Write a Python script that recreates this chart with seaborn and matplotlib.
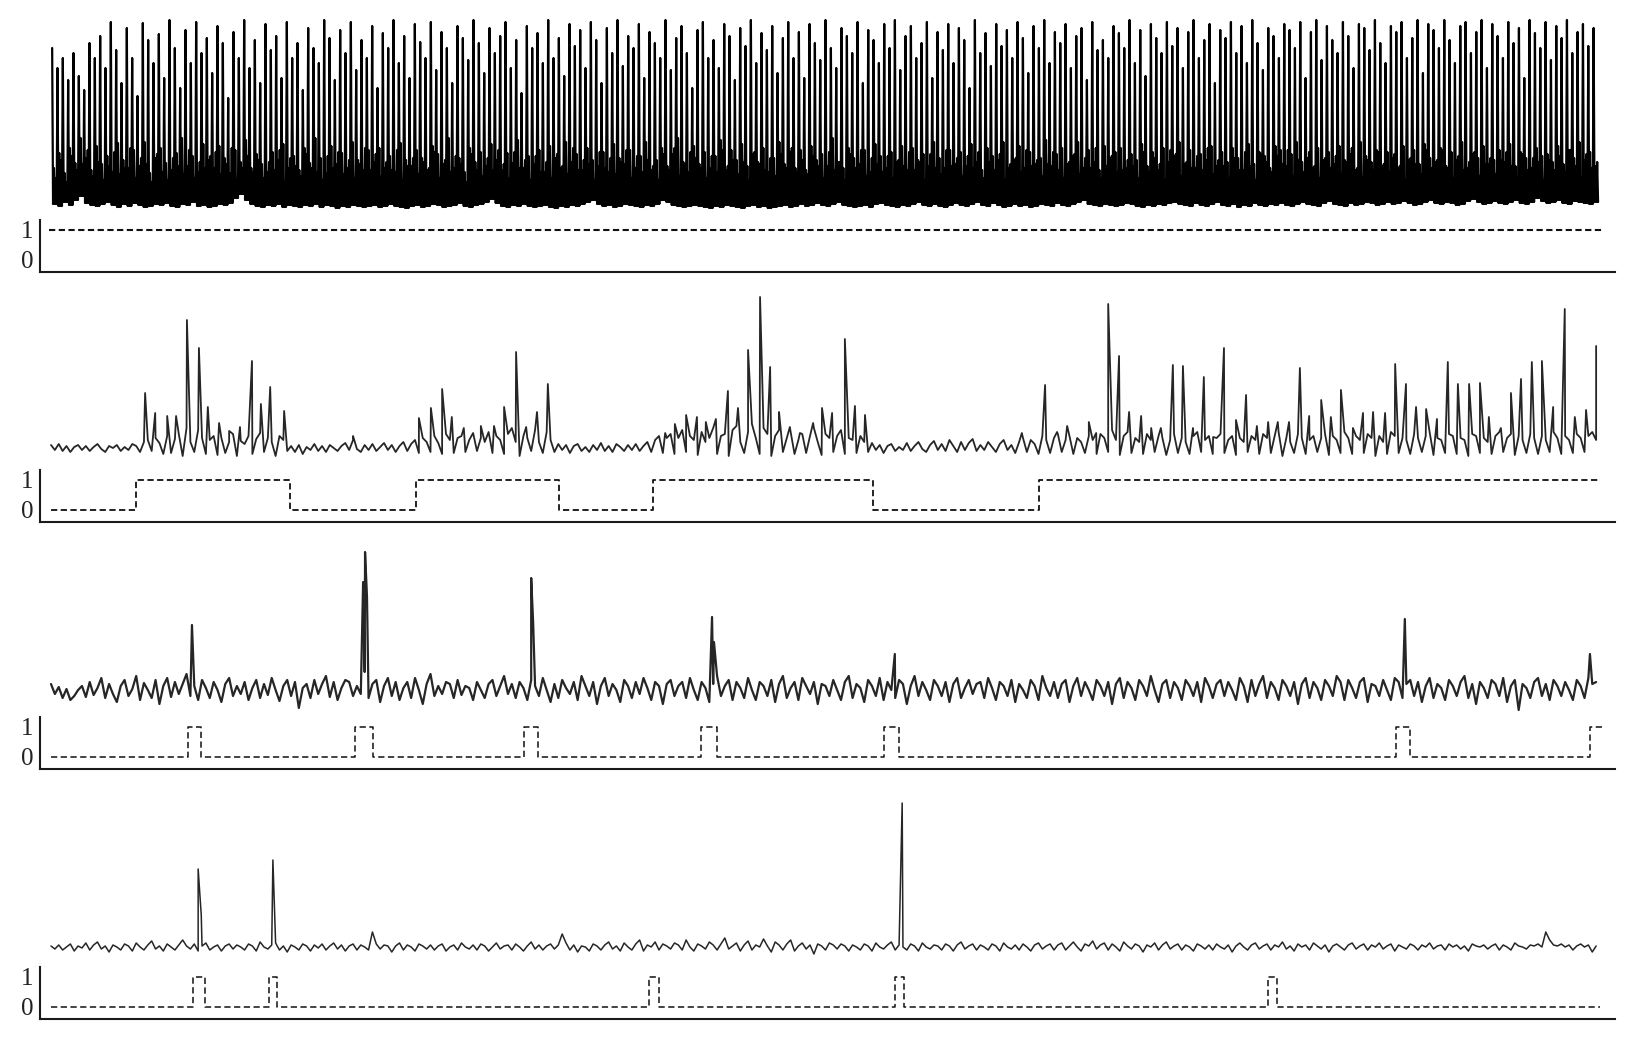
import numpy as np
import pandas as pd
import matplotlib
matplotlib.use("Agg")
import matplotlib.pyplot as plt
import seaborn as sns

# ── Data ──────────────────────────────────────────────────────────────────────
# Time axis is in samples (0..400) shared by all four recordings.

# Recording 1: dense spiking; one period = peak, trough, band, trough, band, trough
TOP_PEAK = [
    160, 140, 150, 128, 155, 132, 118, 165, 150, 172,
    140, 186, 158, 125, 180, 150, 112, 185, 168, 145,
    174, 130, 188, 160, 120, 178, 145, 186, 155, 170,
    135, 182, 165, 110, 176, 150, 188, 140, 168, 125,
    184, 158, 172, 130, 186, 150, 165, 118, 180, 160,
    145, 188, 170, 128, 178, 155, 186, 138, 168, 150,
    182, 120, 175, 160, 188, 145, 172, 130, 184, 166,
    150, 186, 138, 176, 160, 125, 182, 170, 148, 188,
    165, 135, 180, 155, 172, 186, 140, 168, 115, 182,
    160, 175, 145, 188, 150, 170, 132, 184, 162, 178,
    140, 186, 168, 125, 180, 155, 188, 142, 172, 160,
    184, 130, 176, 165, 150, 188, 138, 170, 182, 155,
    120, 178, 186, 150, 168, 140, 184, 172, 128, 180,
    162, 188, 145, 175, 158, 182, 135, 170, 186, 150,
    176, 130, 184, 165, 148, 188, 160, 140, 180, 172,
    155, 186, 125, 178, 168, 145, 184, 160, 188, 138,
    172, 182, 150, 165, 186, 130, 176, 158, 184, 145,
    180, 168, 120, 188, 155, 175, 142, 184, 162, 178,
    150, 186, 170, 135, 182, 160, 188, 145, 176, 165,
    184, 140, 172, 180, 128, 186, 158, 168, 150, 182,
    175, 160, 188, 145, 178, 132, 184, 170, 155, 186,
    162, 180, 140, 176, 188, 150, 168, 184, 125, 178,
    170, 186, 155, 182, 145, 188, 165, 138, 180, 172,
    150, 184, 178, 160, 186, 130, 176, 188, 148, 182,
    168, 155, 186, 172, 140, 184, 180, 158, 188, 165,
    145, 182, 176, 186, 150, 170, 188, 135, 184, 178,
    160, 188, 168, 145, 182, 186, 155, 176, 188, 140,
    184, 172, 150, 186, 165, 180, 130, 188, 175, 160,
    186, 148, 182, 170, 188, 155, 176, 184, 162, 180,
]
TOP_FLOOR = [
    4, 2, 6, 3, 8, 12, 5, 3, 2, 4,
    6, 3, 1, 4, 2, 5, 3, 1, 2, 4,
    3, 5, 2, 1, 4, 3, 6, 2, 3, 1,
    2, 4, 3, 5, 10, 14, 8, 4, 2, 1,
    3, 2, 4, 1, 3, 2, 1, 3, 2, 4,
    1, 3, 2, 0, 2, 1, 3, 2, 1, 2,
    3, 1, 2, 4, 2, 1, 0, 2, 3, 1,
    2, 4, 3, 1, 2, 3, 5, 2, 1, 3,
    4, 6, 9, 5, 2, 1, 3, 2, 4, 2,
    1, 2, 3, 1, 0, 2, 1, 3, 2, 4,
    6, 8, 4, 2, 3, 1, 2, 4, 3, 2,
    1, 3, 2, 4, 8, 6, 3, 2, 1, 2,
    3, 2, 1, 0, 2, 1, 3, 2, 1, 0,
    2, 3, 1, 2, 0, 1, 2, 3, 1, 2,
    4, 2, 3, 5, 3, 2, 4, 6, 3, 2,
    1, 2, 3, 1, 4, 5, 3, 2, 1, 3,
    2, 4, 6, 3, 2, 4, 2, 1, 3, 5,
    3, 2, 4, 6, 3, 2, 5, 3, 1, 2,
    4, 2, 3, 1, 2, 4, 3, 2, 5, 3,
    2, 4, 6, 8, 4, 3, 2, 4, 3, 2,
    3, 5, 4, 2, 1, 3, 2, 4, 3, 5,
    6, 4, 3, 2, 5, 3, 2, 4, 6, 3,
    2, 4, 1, 3, 2, 5, 3, 2, 4, 3,
    5, 3, 2, 4, 6, 4, 3, 2, 5, 7,
    4, 3, 2, 5, 3, 4, 6, 5, 3, 4,
    6, 4, 5, 7, 5, 3, 4, 6, 8, 5,
    4, 6, 5, 3, 4, 7, 9, 6, 4, 5,
    7, 5, 4, 6, 8, 5, 4, 6, 10, 7,
    5, 6, 8, 5, 4, 7, 6, 5, 4, 6,
]
TOP_BAND = [
    40, 55, 35, 60, 45, 70, 50, 38, 62, 44,
    52, 36, 65, 48, 40, 58, 42, 66, 35, 50,
    60, 45, 38, 55, 70, 42, 52, 36, 64, 48,
    40, 62, 50, 35, 58, 46, 68, 40, 54, 44,
    36, 56, 48, 64, 40, 52, 38, 60, 45, 70,
    50, 35, 62, 44, 55, 40, 66, 48, 38, 58,
    46, 60, 40, 52, 36, 65, 48, 42, 58, 50,
    38, 62, 54, 44, 70, 40, 50, 36, 60, 46,
    56, 42, 64, 48, 38, 55, 45, 68, 40, 52,
    44, 58, 36, 62, 50, 40, 66, 46, 54, 38,
    60, 48, 42, 56, 36, 64, 50, 44, 58, 40,
    52, 66, 38, 48, 60, 42, 54, 70, 46, 36,
    62, 44, 56, 40, 52, 68, 38, 58, 48, 64,
    42, 54, 46, 60, 36, 50, 66, 44, 56, 40,
    58, 38, 62, 48, 54, 42, 70, 46, 40, 60,
    50, 44, 58, 36, 64, 52, 40, 56, 46, 62,
    38, 60, 48, 54, 42, 66, 50, 40, 58, 44,
    56, 42, 64, 46, 38, 60, 52, 48, 66, 40,
    48, 62, 40, 56, 44, 50, 68, 42, 54, 60,
    44, 52, 66, 40, 58, 46, 38, 62, 50, 56,
    60, 40, 54, 48, 64, 42, 56, 38, 60, 46,
    52, 66, 44, 58, 40, 54, 48, 62, 42, 56,
    46, 60, 50, 38, 64, 44, 56, 52, 40, 62,
    58, 42, 54, 66, 46, 50, 40, 60, 48, 56,
    44, 62, 48, 54, 38, 66, 52, 46, 58, 42,
    56, 50, 40, 62, 48, 58, 44, 64, 50, 46,
    60, 42, 56, 48, 66, 40, 54, 50, 62, 44,
    48, 58, 46, 64, 42, 56, 50, 40, 60, 52,
    54, 46, 62, 44, 58, 50, 66, 48, 56, 42,
]
TOP_BAND2 = [
    30, 48, 26, 52, 38, 44, 58, 32, 46, 28,
    42, 56, 34, 40, 60, 30, 50, 44, 26, 54,
    36, 28, 50, 42, 34, 58, 30, 46, 40, 52,
    56, 34, 44, 60, 28, 40, 52, 36, 48, 30,
    46, 38, 58, 26, 50, 42, 32, 54, 40, 36,
    28, 52, 40, 56, 34, 48, 30, 44, 60, 38,
    54, 32, 46, 38, 58, 28, 42, 50, 34, 46,
    40, 56, 30, 48, 36, 52, 44, 26, 54, 38,
    32, 50, 38, 58, 44, 30, 56, 40, 48, 28,
    52, 36, 46, 30, 54, 42, 34, 60, 38, 48,
    44, 28, 56, 40, 50, 34, 46, 58, 30, 52,
    36, 48, 42, 28, 54, 38, 60, 32, 44, 56,
    50, 40, 30, 52, 36, 58, 42, 48, 34, 46,
    28, 56, 44, 38, 50, 32, 54, 40, 60, 36,
    48, 34, 52, 42, 30, 56, 38, 46, 28, 54,
    40, 58, 32, 50, 44, 36, 52, 30, 48, 42,
    56, 38, 46, 28, 54, 40, 34, 58, 42, 50,
    32, 52, 40, 56, 30, 46, 38, 54, 28, 44,
    50, 36, 58, 42, 48, 32, 44, 56, 38, 30,
    46, 54, 34, 50, 40, 60, 30, 42, 52, 36,
    38, 48, 42, 30, 56, 36, 50, 44, 28, 58,
    54, 32, 46, 40, 52, 38, 60, 34, 48, 42,
    30, 50, 38, 56, 42, 28, 54, 46, 36, 52,
    44, 58, 32, 48, 36, 56, 42, 30, 50, 40,
    52, 34, 46, 60, 40, 30, 48, 38, 56, 44,
    36, 54, 42, 28, 50, 44, 34, 58, 40, 48,
    58, 40, 30, 52, 38, 46, 56, 32, 44, 50,
    34, 48, 56, 42, 30, 54, 38, 50, 46, 28,
    48, 38, 52, 36, 58, 42, 30, 54, 40, 46,
]

# Recordings 2-4: baseline samples (one per time unit) plus spikes
NOISE2 = [
    3, -2, 4, -3, 2, -4, 1, 3, -2, 2,
    -3, 1, 4, -1, -4, 2, 0, 3, -3, 1,
    -2, 4, 2, -4, 6, 8, -3, 10, 5, -6,
    12, -5, 9, 14, -8, 20, 6, -4, 18, 10,
    -6, 8, 12, -7, 10, -5, 6, 14, -8, 7,
    4, 12, -6, 9, 15, -4, 10, 6, -8, 12,
    8, -3, 2, -4, 3, -6, 1, -2, 4, -3,
    2, -4, 3, 0, -3, 2, 5, -2, 8, -1,
    -4, 3, -2, 4, -3, 1, 5, -2, 3, -4,
    2, 6, -3, 4, 8, -5, 10, 6, -4, 12,
    5, -6, 14, 8, -5, 10, 12, -4, 8, 15,
    -3, 10, 6, 16, -5, 12, 8, -6, 14, 20,
    6, -8, 12, 10, -3, 18, 6, -5, 16, 8,
    -4, 4, -2, 3, -5, 2, 4, -3, 1, -4,
    3, -2, 5, -3, 2, -4, 4, 1, -3, 3,
    -2, 4, -3, 2, 6, -4, 8, 12, -5, 10,
    14, -6, 10, 18, -4, 12, 8, -7, 16, 6,
    10, 20, -6, 12, 14, -8, 18, 22, 6, -5,
    16, 24, 10, -6, 20, 14, -8, 12, 18, -4,
    10, 16, -6, 8, 14, -5, 12, 20, 6, -7,
    14, 10, -4, 12, 18, -6, 10, 8, -5, 12,
    6, -4, 5, -2, 3, -5, 2, 4, -3, 1,
    -2, 5, -3, 2, 6, -1, -4, 3, 7, -2,
    4, -3, 8, 2, -4, 6, -2, 5, 9, -3,
    3, -2, 6, 1, -4, 4, 8, -2, 3, -5,
    6, 10, -4, 8, 4, -6, 12, 8, -5, 10,
    14, -4, 8, 12, -6, 10, 6, -5, 12, 8,
    -6, 14, 10, -4, 18, 8, -7, 12, 16, -5,
    10, 6, -6, 14, 8, -4, 12, 10, -7, 8,
    14, -5, 10, 6, -6, 12, 16, -4, 8, 12,
    -6, 10, 14, -5, 8, 12, -7, 10, 6, -4,
    12, 8, -6, 14, 10, -5, 12, 16, -8, 10,
    6, -5, 14, 10, -6, 8, 12, -4, 10, 14,
    -7, 12, 8, -5, 16, 10, -6, 12, 8, -5,
    14, 10, -8, 12, 6, -6, 16, 12, -5, 10,
    8, -6, 14, 10, -4, 12, 16, -7, 10, 8,
    -5, 14, 12, -6, 10, 8, -8, 14, 12, -5,
    10, 6, -6, 12, 16, -4, 10, 14, -7, 12,
    8, -5, 14, 10, -6, 12, 8, -4, 16, 10,
    -6, 12, 8, -5, 14, 10, -4, 12, 16, 8,
]
SPIKE2_T = [
    24.3, 26.9, 30.0, 32.3, 35.1, 38.2, 40.5, 43.4, 46.0, 48.8,
    51.9, 54.2, 56.6, 60.2, 78.0, 95.0, 98.1, 101.0, 103.5, 106.6,
    111.0, 114.4, 117.0, 120.1, 122.7, 125.5, 128.3, 158.6, 161.1, 164.0,
    166.8, 169.1, 171.7, 174.8, 177.4, 180.0, 183.1, 185.7, 188.0, 190.8,
    193.4, 196.8, 199.1, 201.7, 205.0, 207.6, 210.2, 250.7, 256.7, 259.8,
    262.4, 268.0, 269.9, 273.0, 275.8, 278.4, 281.5, 284.1, 286.6, 289.7,
    292.3, 294.9, 297.7, 300.1, 302.9, 306.0, 308.6, 311.4, 314.3, 316.8,
    319.7, 322.5, 324.9, 328.0, 330.5, 333.1, 336.2, 338.8, 341.4, 344.5,
    347.1, 349.9, 352.5, 355.1, 357.9, 360.7, 363.3, 366.2, 369.0, 371.3,
    374.4, 377.0, 379.6, 382.4, 385.0, 387.9, 390.9, 393.5, 396.4, 399.0,
]
SPIKE2_H = [
    55, 35, 32, 32, 128, 100, 41, 25, 17, 21,
    87, 44, 61, 37, 12, 30, 40, 59, 31, 20,
    22, 22, 41, 96, 21, 36, 64, 15, 24, 33,
    31, 26, 29, 57, 40, 98, 151, 81, 36, 21,
    15, 25, 40, 35, 109, 42, 33, 15, 63, 16,
    22, 26, 15, 144, 92, 36, 32, 20, 20, 83,
    82, 20, 71, 11, 100, 28, 53, 22, 26, 26,
    26, 80, 32, 48, 31, 58, 20, 35, 36, 35,
    84, 64, 41, 39, 29, 86, 64, 64, 65, 31,
    20, 55, 69, 86, 87, 41, 139, 31, 38, 102,
]

NOISE3 = [
    8, -2, 5, -6, 3, -8, -4, 2, 6, -5,
    10, -3, 4, 14, -6, 8, -2, -10, 6, 12,
    -4, 3, 16, -8, 9, 2, -6, 12, -12, 6,
    14, -5, 10, -2, 8, 18, -4, 6, -8, 12,
    4, -6, 10, 2, -10, 8, 14, -4, 6, -2,
    10, -8, 4, 12, -6, 8, -3, 14, 2, -9,
    6, 12, -4, 10, -16, 4, 8, -6, 12, -2,
    8, 16, -5, 10, -8, 4, 12, 10, -4, 6,
    -2, 20, -6, 8, 12, -10, 6, 14, -4, 10,
    -8, 4, 10, -6, 14, 2, -12, 8, 18, -4,
    6, -2, 10, 8, -6, 12, -3, 6, 4, -8,
    10, 2, -6, 8, 12, -4, 6, 16, -2, 8,
    -6, 10, 4, -8, 12, 6, -4, 14, 2, -10,
    8, -6, 12, 4, -2, 10, -8, 16, 6, -4,
    10, -12, 6, 14, -4, 8, 2, -10, 12, 6,
    -6, 10, -2, 14, 4, -8, 10, 6, -12, 8,
    12, -4, 6, 10, -6, 14, 2, -8, 10, 4,
    -10, 8, 16, -4, 6, 12, -8, 10, 4, -6,
    14, 2, -8, 10, 6, -4, 12, -10, 8, 16,
    -6, 4, 10, -8, 14, 6, -2, 10, -12, 8,
    6, -4, 12, 2, -8, 10, 16, -6, 8, 4,
    -10, 12, 6, -4, 14, -8, 10, 2, -6, 12,
    8, -12, 6, 16, -4, 10, 2, -8, 12, 6,
    -4, 10, -10, 8, 14, -6, 4, 12, -2, 8,
    10, -6, 14, 4, -8, 10, 6, -4, 12, -10,
    8, 2, -6, 12, 6, -8, 16, 4, -4, 10,
    -6, 8, 12, -10, 6, 14, -4, 10, 2, -8,
    12, 6, -4, 10, -12, 8, 14, -6, 10, 4,
    -8, 12, 6, -4, 16, 2, -10, 8, 12, -6,
    10, 4, -8, 12, 6, -4, 10, -10, 14, 6,
    -6, 8, 12, -4, 10, 2, -8, 14, 6, -10,
    12, -4, 8, 16, -6, 10, 4, -8, 12, 6,
    -4, 10, -12, 8, 14, -6, 10, 4, -8, 12,
    6, -4, 16, 10, -8, 12, 4, -6, 10, 14,
    -10, 8, 6, -4, 12, 2, -8, 14, 10, -6,
    8, 12, -4, 10, -10, 6, 14, -6, 8, 4,
    -8, 12, 6, -4, 10, 16, -6, 8, -12, 10,
    4, -6, 12, 8, -4, 14, -10, 6, 12, -18,
    8, 4, -6, 10, 14, -4, 8, -8, 12, 6,
    -4, 10, 2, -8, 12, 6, -6, 14, 8, 10,
]
SPIKE3_T = [36.4, 80.6, 81.1, 81.6, 124.0, 124.5, 170.7, 171.2, 217.9, 349.6, 397.4]
SPIKE3_H = [67, 110, 140, 95, 114, 70, 75, 50, 38, 73, 38]

NOISE4 = [
    2, -1, 3, -2, 1, 4, -3, 2, 0, 5,
    -2, 3, 6, -1, 2, -4, 3, 1, -2, 4,
    2, -3, 5, 1, -2, 3, 7, -1, 2, -3,
    4, 1, -2, 3, 8, 2, -1, 4, -3, 2,
    5, -2, 1, 3, -3, 2, 4, -1, 3, 1,
    -2, 4, 2, -3, 6, 1, -1, 3, 5, -2,
    2, -4, 3, 1, -2, 4, 2, -3, 3, 0,
    4, -2, 2, 5, -1, 3, -3, 2, 4, -2,
    3, 1, -2, 16, 4, -1, 3, 2, -4, 2,
    5, -2, 3, 1, -3, 4, 2, -1, 3, -2,
    2, 4, -3, 1, 3, -2, 5, 1, -1, 3,
    -2, 4, 2, -3, 1, 5, -1, 2, 3, -2,
    4, 1, -3, 2, 6, -1, 3, -2, 2, 4,
    -1, 3, 14, 5, -2, 3, -4, 2, 1, -3,
    4, 2, -2, 3, 6, -1, 2, -3, 5, 1,
    -2, 4, 8, -3, 3, 1, 6, -2, 4, 2,
    -1, 5, 3, -2, 8, 1, -3, 4, 2, -1,
    6, 3, -2, 4, 10, -1, 2, 5, -3, 3,
    7, -2, 3, 1, 9, 2, -4, 6, 3, -2,
    4, 8, -3, 2, 5, -1, 3, -6, 4, 2,
    -2, 5, 3, -1, 4, 2, -3, 3, 1, -2,
    4, 2, -3, 5, 1, -1, 3, 6, -2, 3,
    1, -2, 4, 2, -3, 5, 1, -1, 3, 2,
    -2, 4, 2, -3, 3, 6, -1, 2, 4, -2,
    3, 1, -2, 4, 2, -3, 5, 1, -1, 3,
    -2, 4, 1, -3, 3, 5, -1, 2, 4, -2,
    3, 5, -2, 2, 6, 1, -3, 4, 2, 7,
    -1, 3, 5, -2, 4, 1, -3, 6, 2, -1,
    4, 2, -4, 3, 1, 5, -2, 3, 6, -1,
    2, 4, -2, 3, 1, -3, 4, 2, -1, 3,
    -2, 4, 1, -1, 3, -4, 2, 5, 1, -2,
    3, 5, -1, 2, 4, -2, 3, 1, 6, -1,
    2, -3, 4, 1, 3, -2, 5, 2, -1, 3,
    -4, 2, 4, 1, -2, 3, 5, -1, 2, 4,
    -2, 3, 1, 5, -1, 2, 4, -3, 3, 1,
    -1, 4, 2, -2, 3, 1, 5, -1, 2, 3,
    -2, 4, 1, 3, -1, 2, -3, 4, 2, 1,
    3, -1, 2, 4, -2, 3, 1, -2, 5, 2,
    1, -1, 3, 2, 4, 1, 16, 8, 3, 2,
    4, 1, 3, -2, 2, 4, 1, 3, -4, 2,
]
SPIKE4_T = [38.0, 38.8, 57.3, 219.8]
SPIKE4_H = [79, 33, 88, 145]

# Binary state traces (change times and states, held until next change)
STEP1_T = [-0.5, 400.5]
STEP1_V = [1, 1]
STEP2_T = [0, 21.9, 61.7, 94.3, 131.2, 155.5, 212.3, 255.1, 400.0]
STEP2_V = [0, 1, 0, 1, 0, 1, 0, 1, 1]
STEP3_T = [0, 35.4, 38.7, 78.5, 83.1, 122.1, 125.8, 167.8, 171.9,
           215.1, 219.0, 347.3, 350.9, 397.4, 401.0]
STEP3_V = [0, 1, 0, 1, 0, 1, 0, 1, 0, 1, 0, 1, 0, 1, 1]
STEP4_T = [0, 36.7, 39.8, 56.3, 58.4, 154.4, 157.0, 217.9, 220.2, 314.3, 316.6, 400.0]
STEP4_V = [0, 1, 0, 1, 0, 1, 0, 1, 0, 1, 0, 0]

# ── Layout (pixels of the 1639x1047 canvas) ───────────────────────────────────
W, H = 1639, 1047
AX_LEFT, AX_RIGHT = 40, 1615
T0_PX, PX_PER_T = 51, 3.8725
XLIM = (-(T0_PX - AX_LEFT) / PX_PER_T, (AX_RIGHT - T0_PX) / PX_PER_T)

# (trace top, trace bottom, trace baseline, binary-axis bottom)
PANELS = [
    (10, 215, 208, 272),
    (285, 465, 448, 522),
    (540, 716, 692, 769),
    (795, 968, 948, 1019),
]


def box(top, bottom):
    return [AX_LEFT / W, 1 - bottom / H, (AX_RIGHT - AX_LEFT) / W, (bottom - top) / H]


def spike_trace(noise, spike_t, spike_h):
    t = np.concatenate([np.arange(len(noise), dtype=float), spike_t])
    v = np.concatenate([np.asarray(noise, float), spike_h])
    order = np.argsort(t, kind="stable")
    return pd.DataFrame({"t": t[order], "v": v[order]})


def dense_trace():
    v = np.column_stack([TOP_PEAK, TOP_FLOOR, TOP_BAND, TOP_FLOOR,
                         TOP_BAND2, TOP_FLOOR]).ravel()
    t = np.linspace(0.3, 399.5, len(v))
    return pd.DataFrame({"t": t, "v": v})


# ── Plot ──────────────────────────────────────────────────────────────────────
sns.set_style("white")
plt.rcParams["font.family"] = ["Liberation Serif", "DejaVu Serif"]
plt.rcParams["lines.scale_dashes"] = False

fig = plt.figure(figsize=(W / 100, H / 100), dpi=100)

traces = [
    (dense_trace(), "#000000", 1.6),
    (spike_trace(NOISE2, SPIKE2_T, SPIKE2_H), "#262626", 1.3),
    (spike_trace(NOISE3, SPIKE3_T, SPIKE3_H), "#262626", 1.6),
    (spike_trace(NOISE4, SPIKE4_T, SPIKE4_H), "#262626", 1.1),
]
steps = [(STEP1_T, STEP1_V, 1.5), (STEP2_T, STEP2_V, 1.3),
         (STEP3_T, STEP3_V, 1.1), (STEP4_T, STEP4_V, 1.1)]

for (top, bottom, base, axis_bottom), (df, color, lw), (st, sv, slw) in zip(PANELS, traces, steps):
    ax = fig.add_axes(box(top, bottom))
    sns.lineplot(data=df, x="t", y="v", estimator=None, sort=False,
                 color=color, lw=lw, ax=ax)
    ax.set_xlim(*XLIM)
    ax.set_ylim(base - bottom, base - top)
    ax.axis("off")

    bx = fig.add_axes(box(axis_bottom - 52, axis_bottom))
    sns.lineplot(x=st, y=sv, estimator=None, sort=False, drawstyle="steps-post",
                 linestyle=(0, (4.5, 2.5)), color="#111111", lw=slw, ax=bx)
    bx.set_xlim(*XLIM)
    bx.set_ylim(-0.4, 1.333)
    bx.set_xticks([])
    bx.set_yticks([0, 1])
    bx.set_yticklabels(["0", "1"], fontsize=18, color="#222222")
    bx.tick_params(axis="y", length=0, pad=5)
    bx.set_xlabel("")
    bx.set_ylabel("")
    sns.despine(ax=bx, top=True, right=True)
    for side in ("left", "bottom"):
        bx.spines[side].set_linewidth(1.5)
        bx.spines[side].set_color("#1a1a1a")

fig.savefig("out.png", dpi=100)
